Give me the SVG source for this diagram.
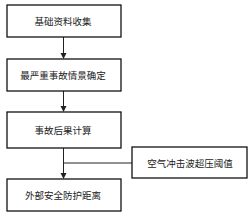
<svg xmlns="http://www.w3.org/2000/svg" width="251" height="215" viewBox="0 0 251 215">
<style>
.box{fill:#fff;stroke:#111;stroke-width:1.3}
.t{font-family:"Noto Sans CJK SC","Noto Sans CJK JP",sans-serif;font-size:9.5px;fill:#222;text-anchor:middle;dominant-baseline:central}
.c{stroke:#222;stroke-width:1;fill:none}
</style>
<defs>
<marker id="ah" markerWidth="6" markerHeight="8" refX="5" refY="3" orient="auto" markerUnits="userSpaceOnUse" viewBox="0 0 6 6">
<path d="M0,0 L6,3 L0,6 Z" fill="#222"/>
</marker>
</defs>
<rect width="251" height="215" fill="#fff"/>
<g id="connectors">
<line class="c" x1="63.5" y1="37" x2="63.5" y2="58" marker-end="url(#ah)"/>
<line class="c" x1="63.5" y1="91" x2="63.5" y2="111" marker-end="url(#ah)"/>
<line class="c" x1="63.5" y1="148" x2="63.5" y2="178" marker-end="url(#ah)"/>
<line class="c" x1="63.5" y1="163" x2="132" y2="163" stroke="#777"/>
</g>
<g id="n1"><rect class="box" x="7" y="5" width="114" height="32"/><text class="t" x="63" y="21">基础资料收集</text></g>
<g id="n2"><rect class="box" x="7" y="59" width="114" height="32"/><text class="t" x="63" y="75">最严重事故情景确定</text></g>
<g id="n3"><rect class="box" x="7" y="112" width="114" height="36"/><text class="t" x="63" y="130">事故后果计算</text></g>
<g id="n4"><rect class="box" x="7" y="179" width="114" height="32"/><text class="t" x="63" y="195">外部安全防护距离</text></g>
<g id="n5"><rect class="box" x="132" y="147" width="115" height="31"/><text class="t" x="190" y="163">空气冲击波超压阈值</text></g>
</svg>
